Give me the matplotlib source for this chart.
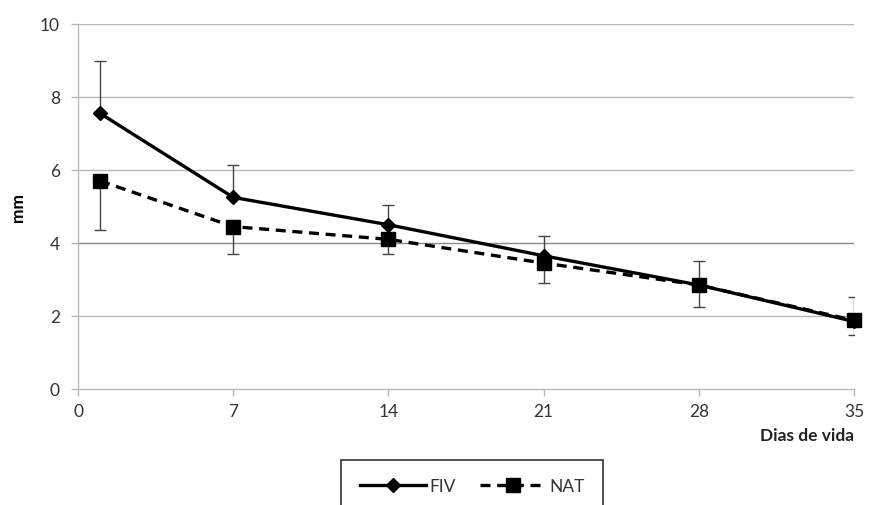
import matplotlib
matplotlib.use("Agg")
import matplotlib.pyplot as plt
from matplotlib.lines import Line2D

# data
days = [1, 7, 14, 21, 28, 35]
fiv = [7.55, 5.25, 4.5, 3.65, 2.85, 1.85]
fiv_err_up = [1.45, 0.9, 0.55, 0.55, 0.65, 0.67]
nat = [5.7, 4.45, 4.1, 3.45, 2.85, 1.88]
nat_err_down = [1.35, 0.75, 0.4, 0.55, 0.6, 0.4]
xticks = [0, 7, 14, 21, 28, 35]
yticks = [0, 2, 4, 6, 8, 10]

plt.rcParams["font.family"] = ["Lato", "DejaVu Sans"]

W, H = 869, 506
fig = plt.figure(figsize=(W / 100, H / 100), dpi=100)
ax = fig.add_axes([78 / W, 1 - 390 / H, (854 - 78) / W, (390 - 25) / H])

grid_c = "#b8b8b8"
for y in yticks[1:]:
    ax.axhline(y, color="#8a8a8a" if y == 4 else grid_c, lw=1.0, zorder=0)

ax.errorbar(days, fiv, yerr=[[0] * 6, fiv_err_up], fmt="none", ecolor="#444444",
            elinewidth=1.0, capsize=4, capthick=1.0, zorder=2)
ax.errorbar(days, nat, yerr=[nat_err_down, [0] * 6], fmt="none", ecolor="#444444",
            elinewidth=1.0, capsize=4, capthick=1.0, zorder=2)
ax.plot(days, fiv, color="black", lw=2.4, marker="D", ms=7, zorder=3, clip_on=False)
ax.plot(days, nat, color="black", lw=2.4, ls=(0, (3, 2)), marker="s", ms=10,
        zorder=4, clip_on=False)

ax.set_xlim(0, 35)
ax.set_ylim(0, 10)
ax.set_xticks(xticks)
ax.set_yticks(yticks)
ax.tick_params(axis="both", colors=grid_c, labelcolor="#333333", labelsize=12.5,
               length=5, width=1.0)
ax.tick_params(axis="x", pad=5)
ax.tick_params(axis="y", pad=8)
for s in ["top", "right"]:
    ax.spines[s].set_visible(False)
for s in ["left", "bottom"]:
    ax.spines[s].set_color(grid_c)
    ax.spines[s].set_linewidth(1.0)

ax.set_ylabel("mm", fontsize=12.5, fontweight="bold", labelpad=10)
fig.text(854 / W, 1 - 436 / H, "Dias de vida", ha="right", va="center",
         fontsize=12.5, fontweight="bold", color="#222222")

handles = [Line2D([], [], color="black", lw=2.4, marker="D", ms=7),
           Line2D([], [], color="black", lw=2.4, ls=(0, (3, 2)), marker="s", ms=10)]
leg = fig.legend(handles, ["FIV", "NAT"], loc="upper center",
                 bbox_to_anchor=(472 / W, 1 - 461 / H), ncol=2, frameon=True,
                 fancybox=False, edgecolor="black", fontsize=12.5,
                 handlelength=3.8, columnspacing=1.4, handletextpad=0.2,
                 borderpad=1.05, borderaxespad=0)
leg.get_frame().set_linewidth(1.2)
for t in leg.get_texts():
    t.set_color("#333333")

fig.savefig("out.png", dpi=100)
